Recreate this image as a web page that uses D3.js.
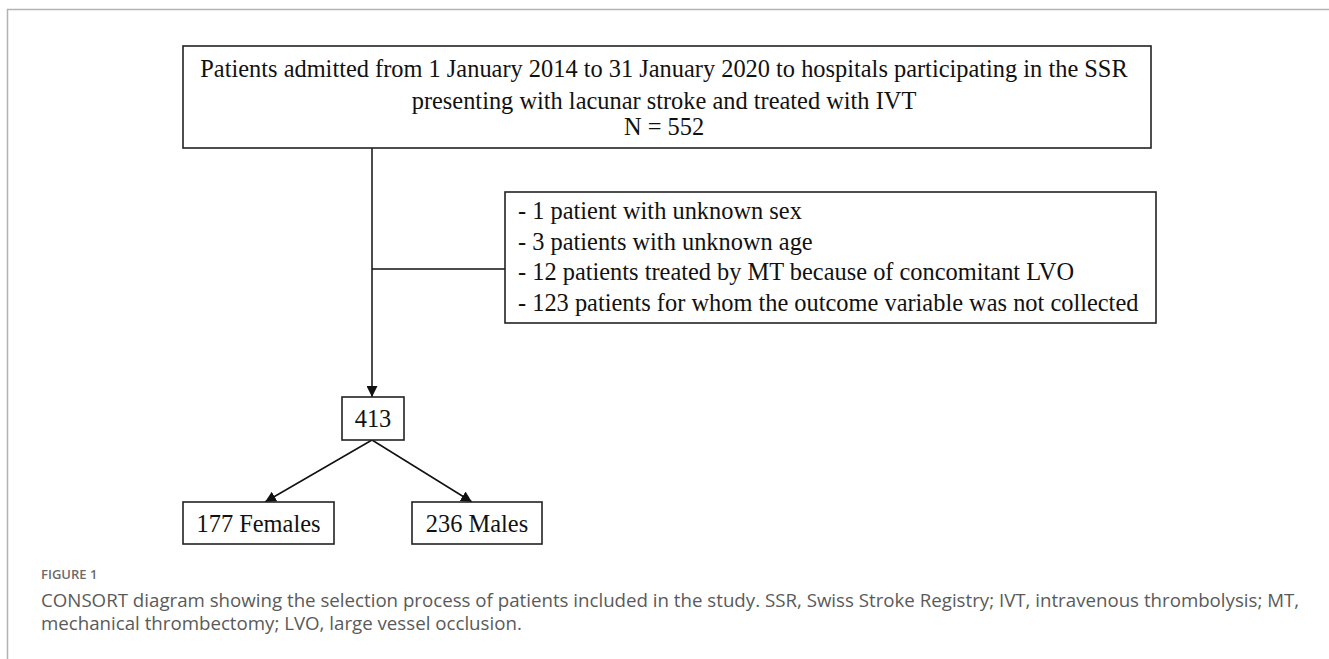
<!DOCTYPE html>
<html>
<head>
<meta charset="utf-8">
<script src="https://cdn.jsdelivr.net/npm/d3@7"></script>
<style>
  html, body { margin: 0; padding: 0; background: #fff; }
  svg { display: block; }
</style>
</head>
<body>
<svg id="chart" width="1329" height="659"></svg>
<script>
// flowchart content
const topLines = [
  'Patients admitted from 1 January 2014 to 31 January 2020 to hospitals participating in the SSR',
  'presenting with lacunar stroke and treated with IVT',
  'N = 552'
];
const exclusionLines = [
  '- 1 patient with unknown sex',
  '- 3 patients with unknown age',
  '- 12 patients treated by MT because of concomitant LVO',
  '- 123 patients for whom the outcome variable was not collected'
];
const includedCount = ['413'];
const groupLabels = ['177 Females', '236 Males'];
const figureLabel = 'FIGURE 1';
const captionLines = [
  'CONSORT diagram showing the selection process of patients included in the study. SSR, Swiss Stroke Registry; IVT, intravenous thrombolysis; MT,',
  'mechanical thrombectomy; LVO, large vessel occlusion.'
];

const svg = d3.select('#chart');
const serif = '"Liberation Serif", "Times New Roman", serif';
const sans = '"Open Sans", "Noto Sans", sans-serif';
const fs = 24.4;

// page frame
svg.append('path')
  .attr('d', 'M7.5,659 V9.5 H1329')
  .attr('fill', 'none')
  .attr('stroke', '#b3b3b3')
  .attr('stroke-width', 1.5);

const defs = svg.append('defs');
defs.append('marker')
  .attr('id', 'arrow')
  .attr('viewBox', '0 0 10 10')
  .attr('refX', 10)
  .attr('refY', 5)
  .attr('markerWidth', 11)
  .attr('markerHeight', 11)
  .attr('markerUnits', 'userSpaceOnUse')
  .attr('orient', 'auto')
  .append('path')
  .attr('d', 'M0,0 L10,5 L0,10 z')
  .attr('fill', '#111');

const g = svg.append('g');

// box layout
const boxes = [
  { id: 'top', x: 183, y: 46, w: 968, h: 102 },
  { id: 'excl', x: 505, y: 192, w: 651, h: 131 },
  { id: 'n', x: 342, y: 397, w: 62, h: 43 },
  { id: 'f', x: 183, y: 502, w: 151, h: 42 },
  { id: 'm', x: 412, y: 502, w: 130, h: 42 }
];
const box = (id) => boxes.find((b) => b.id === id);
const trunkX = 372;

// connectors
const lines = [
  { x1: trunkX, y1: box('top').y + box('top').h, x2: trunkX, y2: box('n').y, arrow: true },
  { x1: trunkX, y1: 269, x2: box('excl').x, y2: 269, arrow: false },
  { x1: trunkX, y1: box('n').y + box('n').h, x2: box('f').x + 82, y2: box('f').y, arrow: true },
  { x1: trunkX, y1: box('n').y + box('n').h, x2: box('m').x + 60, y2: box('m').y, arrow: true }
];

g.selectAll('.link')
  .data(lines)
  .enter()
  .append('line')
  .attr('class', 'link')
  .attr('x1', (d) => d.x1)
  .attr('y1', (d) => d.y1)
  .attr('x2', (d) => d.x2)
  .attr('y2', (d) => d.y2)
  .attr('stroke', '#111')
  .attr('stroke-width', 1.5)
  .attr('marker-end', (d) => (d.arrow ? 'url(#arrow)' : null));

g.selectAll('.box')
  .data(boxes)
  .enter()
  .append('rect')
  .attr('class', 'box')
  .attr('x', (d) => d.x)
  .attr('y', (d) => d.y)
  .attr('width', (d) => d.w)
  .attr('height', (d) => d.h)
  .attr('fill', '#fff')
  .attr('stroke', '#222')
  .attr('stroke-width', 1.6);

// top box text
const topBaselines = [77, 109, 135];
g.selectAll('.topText')
  .data(topLines)
  .enter()
  .append('text')
  .attr('class', 'topText')
  .attr('x', box('top').x + box('top').w / 2 - 3)
  .attr('y', (d, i) => topBaselines[i])
  .attr('text-anchor', 'middle')
  .attr('font-family', serif)
  .attr('font-size', fs)
  .attr('fill', '#111')
  .text((d) => d);

// exclusion text
g.selectAll('.exText')
  .data(exclusionLines)
  .enter()
  .append('text')
  .attr('class', 'exText')
  .attr('x', box('excl').x + 13)
  .attr('y', (d, i) => 219 + i * 30.5)
  .attr('font-family', serif)
  .attr('font-size', fs)
  .attr('fill', '#111')
  .text((d) => d);

// count boxes
const labelled = [
  { b: box('n'), t: includedCount[0] },
  { b: box('f'), t: groupLabels[0] },
  { b: box('m'), t: groupLabels[1] }
];
g.selectAll('.nodeText')
  .data(labelled)
  .enter()
  .append('text')
  .attr('class', 'nodeText')
  .attr('x', (d) => d.b.x + d.b.w / 2)
  .attr('y', (d) => d.b.y + d.b.h / 2 + 8.5)
  .attr('text-anchor', 'middle')
  .attr('font-family', serif)
  .attr('font-size', fs)
  .attr('fill', '#111')
  .text((d) => d.t);

// caption
svg.append('text')
  .attr('x', 41)
  .attr('y', 579)
  .attr('font-family', sans)
  .attr('font-size', 13)
  .attr('font-weight', 600)
  .attr('fill', '#6b6b6b')
  .text(figureLabel);

svg.selectAll('.caption')
  .data(captionLines)
  .enter()
  .append('text')
  .attr('class', 'caption')
  .attr('x', 41)
  .attr('y', (d, i) => 607 + i * 22.5)
  .attr('font-family', sans)
  .attr('font-size', 18.7)
  .attr('fill', '#5a5a5a')
  .text((d) => d);
</script>
</body>
</html>
